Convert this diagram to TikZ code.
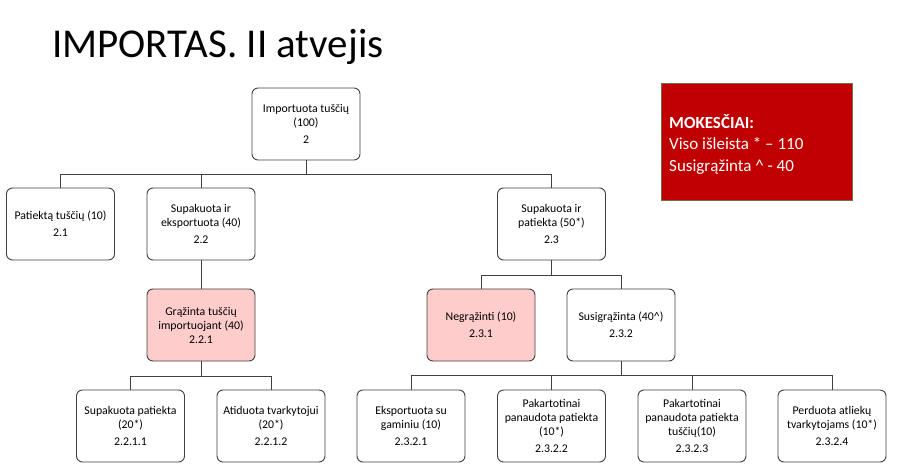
\documentclass[tikz,border=0pt]{standalone}
\usepackage{fontspec}
\setmainfont{Carlito}
\definecolor{rausva}{RGB}{255,204,204}
\definecolor{raudona}{RGB}{192,0,0}
\definecolor{linija}{RGB}{64,64,64}

\begin{document}
\begin{tikzpicture}[x=1pt,y=-1pt,
	blok/.style={draw=linija,line width=.9pt,rounded corners=6pt,fill=white,
		minimum width=108pt,minimum height=72pt,align=center,inner sep=2pt,
		font=\fontsize{11.8}{14}\selectfont},
	grazinta/.style={blok,fill=rausva},
	jungtis/.style={draw=linija,line width=.9pt}]
	\def\ya{124}
	\def\yb{224}
	\def\yc{325}
	\def\yd{426}
	\useasboundingbox (0,0) rectangle (900,474);

	% pavadinimas
	\node[anchor=base west,inner sep=0pt,font=\fontsize{41}{48}\selectfont] (title) at (52,57) {IMPORTAS. II atvejis};

	% mokesciai
	\node[draw={rgb,255:red,110;green,110;blue,80},line width=.6pt,fill=raudona,
		minimum width=191pt,minimum height=117pt] (mokesciai) at (756.5,141.5) {};
	\node[anchor=base west,inner sep=0pt,text=white,align=left,
		font=\fontsize{17}{21.5}\selectfont] (mokesciaitekstas) at (669,171)
		{\textbf{MOKESČIAI:}\\Viso išleista * – 110\\Susigrąžinta \^{} - 40};

	% medis
	\node[blok] (n2) at (306,\ya) {Importuota tuščių\\(100)\\[3pt]2};

	\node[blok] (n21) at (60.5,\yb) {Patiektą tuščių (10)\\[3pt]2.1};
	\node[blok] (n22) at (201,\yb) {Supakuota ir\\eksportuota (40)\\[3pt]2.2};
	\node[blok] (n23) at (551.5,\yb) {Supakuota ir\\patiekta (50*)\\[3pt]2.3};

	\node[grazinta] (n221) at (201,\yc) {Grąžinta tuščių\\importuojant (40)\\2.2.1};
	\node[grazinta] (n231) at (481,\yc) {Negrąžinti (10)\\[3pt]2.3.1};
	\node[blok] (n232) at (621,\yc) {Susigrąžinta (40\^{})\\[3pt]2.3.2};

	\node[blok] (n2211) at (130.5,\yd) {Supakuota patiekta\\(20*)\\[3pt]2.2.1.1};
	\node[blok] (n2212) at (271,\yd) {Atiduota tvarkytojui\\(20*)\\[3pt]2.2.1.2};
	\node[blok] (n2321) at (411,\yd) {Eksportuota su\\gaminiu (10)\\[3pt]2.3.2.1};
	\node[blok] (n2322) at (551.5,\yd) {Pakartotinai\\panaudota patiekta\\(10*)\\[3pt]2.3.2.2};
	\node[blok] (n2323) at (692,\yd) {Pakartotinai\\panaudota patiekta\\tuščių(10)\\[3pt]2.3.2.3};
	\node[blok] (n2324) at (832,\yd) {Perduota atliekų\\tvarkytojams (10*)\\[3pt]2.3.2.4};

	% jungtys
	\foreach \vaikas in {n21,n22,n23} {
		\draw[jungtis] (n2.south) -- ++(0,14) -| (\vaikas.north);
	}
	\draw[jungtis] (n22.south) -- (n221.north);
	\foreach \vaikas in {n231,n232} {
		\draw[jungtis] (n23.south) -- ++(0,15) -| (\vaikas.north);
	}
	\foreach \vaikas in {n2211,n2212} {
		\draw[jungtis] (n221.south) -- ++(0,15) -| (\vaikas.north);
	}
	\foreach \vaikas in {n2321,n2322,n2323,n2324} {
		\draw[jungtis] (n232.south) -- ++(0,14) -| (\vaikas.north);
	}
\end{tikzpicture}
\end{document}
